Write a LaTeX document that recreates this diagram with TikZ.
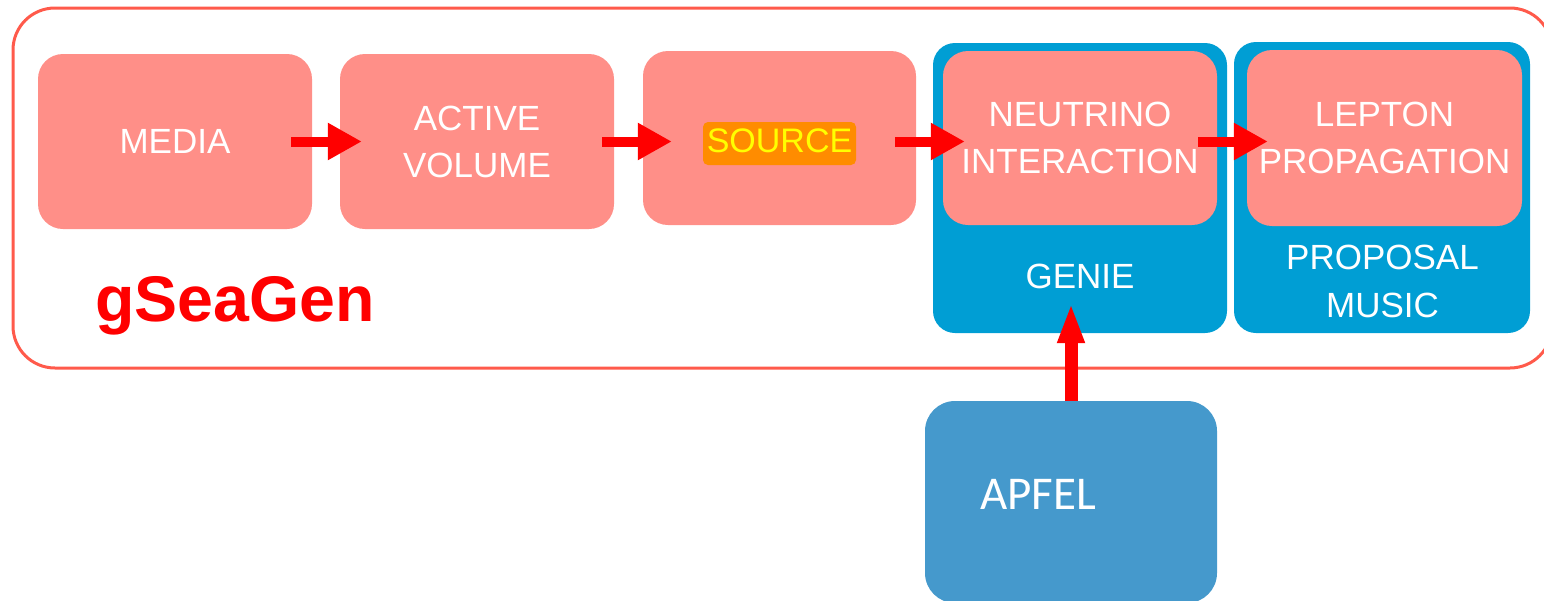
\documentclass[tikz,border=0pt]{standalone}
\usepackage{fontspec}
\setmainfont{Liberation Sans}
\newfontfamily\apfelfont{Carlito}
\usetikzlibrary{arrows.meta,calc}
\definecolor{pinkbox}{RGB}{255,143,136}
\definecolor{bluebox}{RGB}{0,158,212}
\definecolor{apfelblue}{RGB}{69,153,204}
\definecolor{outerred}{RGB}{255,90,75}
\definecolor{srcorange}{RGB}{255,140,0}
\definecolor{srcyellow}{RGB}{255,255,0}
\tikzset{
  outerbox/.style={draw=outerred, line width=3pt, rounded corners=42pt, inner sep=0pt},
  bluecontainer/.style={fill=bluebox, rounded corners=22pt, inner sep=0pt},
  pinkstage/.style={fill=pinkbox, rounded corners=25pt, inner sep=0pt, text=white, align=center,
    font=\fontsize{35}{47}\selectfont},
  bluelabel/.style={text=white, align=center, inner sep=0pt, font=\fontsize{35}{48}\selectfont},
  harr/.style={draw=red, line width=10pt, -{Triangle[length=34pt,width=35pt]}},
  varr/.style={draw=red, line width=13pt, -{Triangle[length=40pt,width=25pt]}},
}
\begin{document}
\begin{tikzpicture}[x=1pt,y=-1pt]
\useasboundingbox (0,0) rectangle (1544,600);
% outer gSeaGen frame
\node[outerbox, minimum width=1539pt, minimum height=360pt] (outer) at (782.5,188) {};
\node[anchor=base west, text=red, inner sep=0pt, font=\fontsize{64.5}{64}\selectfont\bfseries] (gseagen) at (95,321) {gSeaGen};
% blue containers
\node[bluecontainer, minimum width=294pt, minimum height=290pt] (genie) at (1080,188) {};
\node[bluecontainer, minimum width=296pt, minimum height=291pt] (proposal) at (1382,187.5) {};
% pink stages
\node[pinkstage, minimum width=274pt, minimum height=175pt] (media) at (175,141.5) {MEDIA};
\node[pinkstage, minimum width=274pt, minimum height=175pt] (active) at (477,141.5) {ACTIVE\\VOLUME};
\node[pinkstage, minimum width=273pt, minimum height=174pt] (source) at (779.5,138) {};
\node[pinkstage, minimum width=274pt, minimum height=174pt] (neutrino) at (1080,138) {NEUTRINO\\INTERACTION};
\node[pinkstage, minimum width=275pt, minimum height=176pt] (lepton) at (1384.5,138) {LEPTON\\PROPAGATION};
% source highlight
\node[fill=srcorange, text=srcyellow, rounded corners=5pt, inner sep=0pt, minimum width=153pt,
  text height=30pt, text depth=13pt, anchor=base, font=\fontsize{34}{40}\selectfont] (srclabel) at (779.5,152) {SOURCE};
% container labels
\node[bluelabel, anchor=base] (genielabel) at (1080,288) {GENIE};
\node[bluelabel] (proplabel) at (1382.5,281.5) {PROPOSAL\\MUSIC};
% APFEL
\node[fill=apfelblue, rounded corners=30pt, inner sep=0pt, minimum width=292pt, minimum height=202pt] (apfel) at (1071,502) {};
\node[anchor=base west, text=white, inner sep=0pt, font=\apfelfont\fontsize{47}{47}\selectfont] (apfellabel) at (980,509) {APFEL};
% arrows
\draw[harr] ([xshift=-21pt]media.east) -- ([xshift=22pt]active.west);
\draw[harr] ([xshift=-12pt]active.east) -- ($(source.west |- media.east)+(29,0)$);
\draw[harr] ($(source.east |- media.east)+(-21,0)$) -- ($(neutrino.west |- media.east)+(22,0)$);
\draw[harr] ($(neutrino.east |- media.east)+(-19,0)$) -- ($(lepton.west |- media.east)+(21,0)$);
\draw[varr] (apfel.north) -- ($(apfel.north |- genie.south)+(0,-30)$);
\end{tikzpicture}
\end{document}
